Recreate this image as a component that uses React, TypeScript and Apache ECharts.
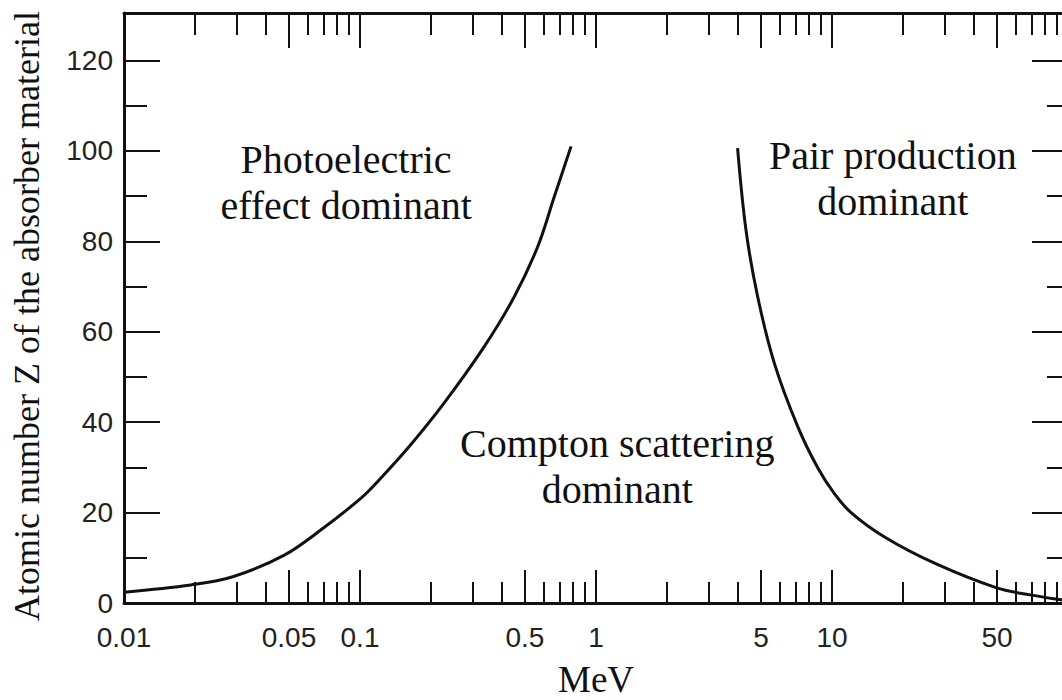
import React, { useEffect, useRef } from "react";
import * as echarts from "echarts";

// Photoelectric / Compton boundary (energy in MeV, atomic number Z)
const photoMeV = [0.01, 0.0192, 0.0289, 0.0478, 0.0684, 0.101, 0.1224, 0.164, 0.227, 0.336, 0.451, 0.566, 0.666, 0.784];
const photoZ = [2.4, 4.0, 5.8, 10.6, 16.2, 23.2, 27.6, 35, 44.2, 56.7, 67.8, 78.8, 89.9, 101];

// Compton / pair production boundary
const pairMeV = [3.98, 4.32, 4.84, 5.7, 7.16, 8.7, 10.2, 12.04, 16.7, 27.2, 49.5, 69, 95.2, 100];
const pairZ = [100.6, 82.5, 67.8, 53.0, 39.0, 29.9, 24.3, 20.0, 14.6, 8.8, 3.4, 1.8, 0.66, 0.55];

// Axis ticks and labels
const xLabelValues = [0.01, 0.05, 0.1, 0.5, 1, 5, 10, 50];
const xMajorTicks = [0.05, 0.1, 0.5, 1, 5, 10, 50, 100];
const xMinorTicks = [
  0.02, 0.03, 0.04, 0.06, 0.07, 0.08, 0.09,
  0.2, 0.3, 0.4, 0.6, 0.7, 0.8, 0.9,
  2, 3, 4, 6, 7, 8, 9,
  20, 30, 40, 60, 70, 80, 90,
];
const yMajorTicks = [0, 20, 40, 60, 80, 100, 120];
const yMinorTicks = [10, 30, 50, 70, 90, 110];

// Region annotations (placed at data coordinates)
const regionNames = ["Photoelectric\neffect dominant", "Pair production\ndominant", "Compton scattering\ndominant"];
const regionMeV = [0.0873, 18.1, 1.23];
const regionZ = [92.9, 94, 30.3];

const xTitle = "MeV";
const yTitle = "Atomic number Z of the absorber material";

export default function App() {
  const ref = useRef<HTMLDivElement>(null);

  useEffect(() => {
    if (!ref.current) return;
    const chart = echarts.init(ref.current, undefined, { renderer: "svg" });

    const axisLine = { show: true, onZero: false, lineStyle: { color: "#111", width: 3 } };
    const noLine = { show: false, onZero: false };
    const tickStyle = { color: "#111", width: 2 };
    const fmt = (v: number) => String(+Number(v).toPrecision(4));
    const sans = "Liberation Sans";
    const serif = "Liberation Serif";

    const xBase = {
      type: "log" as const,
      logBase: 10,
      min: 0.01,
      max: 100,
      splitLine: { show: false },
      minorTick: { show: false },
      minorSplitLine: { show: false },
    };
    const yBase = {
      type: "value" as const,
      min: 0,
      max: 130.5,
      splitLine: { show: false },
      minorTick: { show: false },
    };

    chart.setOption({
      animation: false,
      backgroundColor: "#ffffff",
      grid: { left: 124, right: -6, top: 13, bottom: 97, containLabel: false, outerBoundsMode: "none" },
      xAxis: [
        {
          ...xBase,
          position: "bottom",
          axisLine,
          axisTick: { show: true, inside: true, length: 33, customValues: xMajorTicks, lineStyle: tickStyle },
          axisLabel: {
            show: true,
            customValues: xLabelValues,
            formatter: fmt,
            margin: 20,
            fontFamily: sans,
            fontSize: 28,
            color: "#222",
          },
          name: xTitle,
          nameLocation: "middle",
          nameGap: 58,
          nameTextStyle: { fontFamily: serif, fontSize: 37, color: "#111" },
        },
        {
          ...xBase,
          position: "top",
          axisLine,
          axisTick: { show: true, inside: true, length: 35, customValues: xMajorTicks, lineStyle: tickStyle },
          axisLabel: { show: false },
        },
        {
          ...xBase,
          position: "bottom",
          axisLine: noLine,
          axisTick: { show: true, inside: true, length: 21, customValues: xMinorTicks, lineStyle: tickStyle },
          axisLabel: { show: false },
        },
        {
          ...xBase,
          position: "top",
          axisLine: noLine,
          axisTick: { show: true, inside: true, length: 22, customValues: xMinorTicks, lineStyle: tickStyle },
          axisLabel: { show: false },
        },
      ],
      yAxis: [
        {
          ...yBase,
          position: "left",
          axisLine,
          axisTick: { show: true, inside: true, length: 36, customValues: yMajorTicks, lineStyle: tickStyle },
          axisLabel: {
            show: true,
            customValues: yMajorTicks,
            margin: 11,
            fontFamily: sans,
            fontSize: 28,
            color: "#222",
          },
          name: yTitle,
          nameLocation: "middle",
          nameGap: 79,
          nameRotate: 90,
          nameTextStyle: { fontFamily: serif, fontSize: 36, color: "#111", padding: [0, 16, 0, 0] },
        },
        {
          ...yBase,
          position: "left",
          axisLine: noLine,
          axisTick: { show: true, inside: true, length: 23, customValues: yMinorTicks, lineStyle: tickStyle },
          axisLabel: { show: false },
        },
        {
          ...yBase,
          position: "right",
          axisLine,
          axisTick: { show: true, inside: true, length: 36, customValues: yMajorTicks, lineStyle: tickStyle },
          axisLabel: { show: false },
        },
        {
          ...yBase,
          position: "right",
          axisLine: noLine,
          axisTick: { show: true, inside: true, length: 21, customValues: yMinorTicks, lineStyle: tickStyle },
          axisLabel: { show: false },
        },
      ],
      series: [
        {
          type: "line",
          xAxisIndex: 0,
          yAxisIndex: 0,
          data: photoMeV.map((e, i) => [e, photoZ[i]]),
          smooth: 0.35,
          symbol: "none",
          lineStyle: { color: "#111", width: 3 },
          silent: true,
        },
        {
          type: "line",
          xAxisIndex: 0,
          yAxisIndex: 0,
          data: pairMeV.map((e, i) => [e, pairZ[i]]),
          smooth: 0.35,
          symbol: "none",
          lineStyle: { color: "#111", width: 3 },
          silent: true,
        },
        {
          type: "scatter",
          xAxisIndex: 0,
          yAxisIndex: 0,
          symbolSize: 1,
          itemStyle: { color: "rgba(0,0,0,0)", opacity: 1 },
          silent: true,
          data: regionNames.map((n, i) => ({ name: n, value: [regionMeV[i], regionZ[i]] })),
          label: {
            show: true,
            position: "inside",
            formatter: "{b}",
            fontFamily: serif,
            fontSize: 40,
            lineHeight: 46,
            color: "#111",
            opacity: 1,
            align: "center",
            verticalAlign: "middle",
          },
        },
      ],
    });

    return () => chart.dispose();
  }, []);

  return (
    <div
      ref={ref}
      style={{ position: "fixed", left: 0, top: 0, width: 1062, height: 700 }}
    />
  );
}
